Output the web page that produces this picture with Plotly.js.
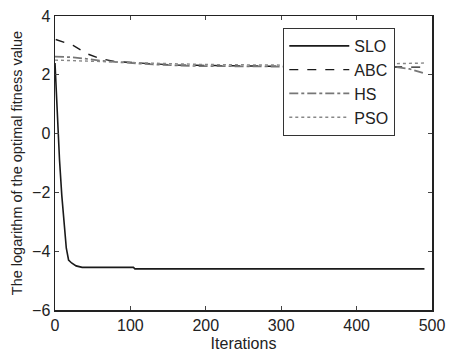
<!DOCTYPE html>
<html>
<head>
<meta charset="utf-8">
<script src="https://cdn.plot.ly/plotly-3.0.1.min.js"></script>
<style>
  html, body { margin: 0; padding: 0; background: #fff; }
  #chart { width: 449px; height: 353px; }
</style>
</head>
<body>
<div id="chart"></div>
<script>
// Convergence curves: log of best fitness per iteration for four optimisers
const iterSLO = [0, 3, 6, 9, 12, 15, 18, 22, 28, 36, 60, 104, 106, 490];
const valSLO  = [2.4, 0.6, -0.9, -2.1, -3.1, -3.9, -4.3, -4.4, -4.5, -4.55, -4.55, -4.55, -4.6, -4.6];

const iterABC = [1, 10, 24, 42, 60, 80, 100, 130, 160, 200, 250, 300, 350, 400, 450, 490];
const valABC  = [3.2, 3.12, 3.0, 2.72, 2.55, 2.45, 2.42, 2.38, 2.33, 2.32, 2.3, 2.28, 2.27, 2.27, 2.26, 2.26];

const iterHS = [0, 20, 40, 60, 90, 130, 180, 250, 350, 450, 470, 490];
const valHS  = [2.62, 2.6, 2.55, 2.48, 2.42, 2.35, 2.3, 2.28, 2.27, 2.27, 2.2, 2.05];

const iterPSO = [0, 20, 50, 100, 150, 200, 300, 400, 490];
const valPSO  = [2.5, 2.48, 2.45, 2.42, 2.38, 2.35, 2.33, 2.35, 2.4];

const seriesNames = ['SLO', 'ABC', 'HS', 'PSO'];
const xTicks = [0, 100, 200, 300, 400, 500];
const yTicks = [-6, -4, -2, 0, 2, 4];

const traces = [
  { x: iterSLO, y: valSLO, name: seriesNames[0], line: { color: '#1a1a1a', width: 1.6, dash: 'solid' } },
  { x: iterABC, y: valABC, name: seriesNames[1], line: { color: '#1a1a1a', width: 1.4, dash: 'dash' } },
  { x: iterHS,  y: valHS,  name: seriesNames[2], line: { color: '#777', width: 1.7, dash: 'dashdot' } },
  { x: iterPSO, y: valPSO, name: seriesNames[3], line: { color: '#888', width: 1.4, dash: 'dot' } }
].map(t => Object.assign({ type: 'scatter', mode: 'lines' }, t));

const axisCommon = {
  showgrid: false, zeroline: false,
  showline: true, linecolor: '#222', linewidth: 1.5, mirror: 'ticks',
  ticks: 'inside', ticklen: 4, tickcolor: '#444',
  tickfont: { family: 'Liberation Sans, Arial, sans-serif', size: 16, color: '#222' }
};

const layout = {
  width: 449, height: 353,
  margin: { l: 55, r: 17, t: 16, b: 43 },
  paper_bgcolor: '#fff', plot_bgcolor: '#fff',
  showlegend: true,
  legend: {
    x: 0.605, y: 0.96, xanchor: 'left', yanchor: 'top',
    bordercolor: '#333', borderwidth: 1.2, bgcolor: '#fff',
    itemwidth: 60, tracegroupgap: 0,
    font: { family: 'Liberation Sans, Arial, sans-serif', size: 16, color: '#222' }
  },
  xaxis: Object.assign({}, axisCommon, {
    range: [0, 500], tickvals: xTicks,
    title: { text: 'Iterations', standoff: 5,
      font: { family: 'Liberation Sans, Arial, sans-serif', size: 16, color: '#222' } }
  }),
  yaxis: Object.assign({}, axisCommon, {
    range: [-6, 4], tickvals: yTicks,
    title: { text: 'The logarithm of the optimal fitness value', standoff: 6,
      font: { family: 'Liberation Sans, Arial, sans-serif', size: 14.5, color: '#222' } }
  })
};

Plotly.newPlot('chart', traces, layout, { staticPlot: true, displayModeBar: false });
</script>
</body>
</html>
